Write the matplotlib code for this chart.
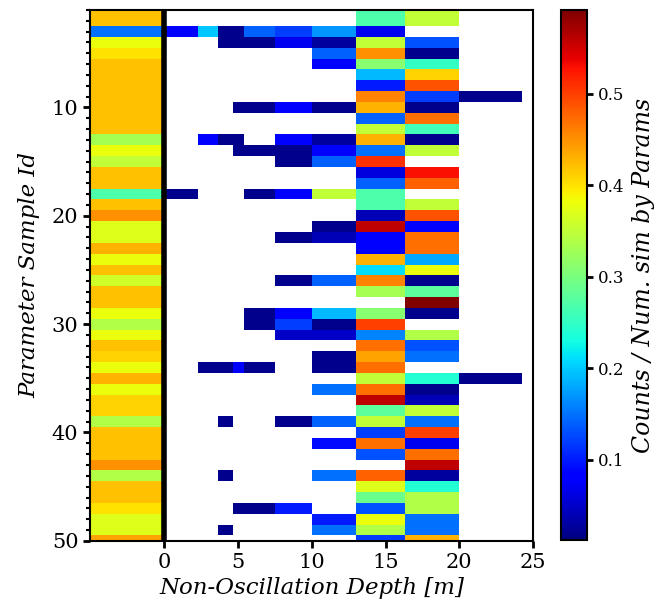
import numpy as np
import matplotlib
matplotlib.use("Agg")
import matplotlib.pyplot as plt
from matplotlib.colors import Normalize

# depth bins (m); the first column (-5..0) holds the oscillating fraction
depth_edges = [-5.0, 0.0, 2.27, 3.63, 4.65, 5.38, 7.49, 10.0, 13.0, 16.3, 20.0, 24.25]
sample_ids = list(range(1, 51))

osc_frac = [0.42, 0.42, 0.15, 0.38, 0.40, 0.42, 0.42, 0.42, 0.42, 0.42,
            0.42, 0.42, 0.33, 0.38, 0.35, 0.42, 0.42, 0.27, 0.42, 0.45,
            0.37, 0.37, 0.43, 0.38, 0.42, 0.36, 0.42, 0.42, 0.38, 0.34,
            0.38, 0.42, 0.41, 0.38, 0.43, 0.38, 0.41, 0.41, 0.34, 0.42,
            0.42, 0.42, 0.45, 0.34, 0.42, 0.42, 0.40, 0.37, 0.37, 0.44]

# sparse shallow bins: sample id -> value
bin_0_2 = {3: 0.08, 18: 0.02}
bin_2_3 = {3: 0.20, 13: 0.08, 34: 0.02}
bin_3_4 = {3: 0.02, 4: 0.02, 13: 0.02, 34: 0.02, 39: 0.02, 44: 0.02, 49: 0.02}
bin_4_5 = {3: 0.02, 4: 0.02, 10: 0.02, 13: 0.02, 14: 0.02, 34: 0.08, 47: 0.02}
bin_5_7 = {3: 0.14, 4: 0.02, 10: 0.02, 14: 0.02, 18: 0.02, 29: 0.02, 30: 0.02,
           34: 0.02, 47: 0.02}
bin_7_10 = {3: 0.12, 4: 0.07, 10: 0.08, 13: 0.08, 14: 0.02, 15: 0.02, 18: 0.08,
            22: 0.02, 26: 0.02, 29: 0.08, 30: 0.12, 31: 0.05, 39: 0.02, 47: 0.10}
bin_10_13 = {3: 0.17, 4: 0.03, 5: 0.14, 6: 0.08, 10: 0.02, 13: 0.03, 14: 0.08,
             15: 0.14, 18: 0.35, 21: 0.02, 22: 0.04, 26: 0.14, 29: 0.19, 30: 0.02,
             31: 0.05, 33: 0.02, 34: 0.02, 36: 0.15, 39: 0.14, 41: 0.09, 44: 0.15,
             48: 0.10, 49: 0.15}
bin_20_24 = {9: 0.02, 35: 0.02}

# dense bins (None = no counts)
bin_13_16 = [0.27, 0.27, 0.07, 0.35, 0.45, 0.31, 0.19, 0.10, 0.46, 0.43,
             0.14, 0.35, 0.43, 0.15, 0.51, 0.06, 0.14, 0.27, 0.27, 0.04,
             0.56, 0.08, 0.08, 0.43, 0.21, 0.46, 0.33, None, 0.31, 0.50,
             0.16, 0.47, 0.44, 0.47, 0.35, 0.47, 0.56, 0.28, 0.35, 0.12,
             0.47, 0.13, None, 0.48, 0.37, 0.29, 0.13, 0.38, 0.34, 0.12]
bin_16_20 = [0.35, 0.35, None, 0.13, 0.02, 0.25, 0.41, 0.49, 0.12, 0.02,
             0.47, 0.26, 0.02, 0.35, None, 0.53, 0.48, None, 0.35, 0.49,
             0.08, 0.47, 0.47, 0.18, 0.38, 0.02, 0.28, 0.59, 0.02, None,
             0.34, 0.13, 0.15, None, 0.24, 0.02, 0.04, 0.35, 0.15, 0.50,
             0.07, 0.47, 0.56, 0.03, 0.24, 0.34, 0.34, 0.15, 0.15, 0.43]


def column(src):
    if isinstance(src, dict):
        return [src.get(i, np.nan) for i in sample_ids]
    return [np.nan if v is None else v for v in src]


cols = [osc_frac, bin_0_2, bin_2_3, bin_3_4, bin_4_5, bin_5_7, bin_7_10,
        bin_10_13, bin_13_16, bin_16_20, bin_20_24]
grid = np.array([column(c) for c in cols]).T
grid = np.ma.masked_invalid(grid)

y_edges = np.arange(0.5, len(sample_ids) + 1, 1.0)

plt.rcParams["font.family"] = "DejaVu Serif"

fig = plt.figure(figsize=(6.59, 6.16), dpi=100)
ax = fig.add_axes([0.137, 0.122, 0.672, 0.862])
cax = fig.add_axes([0.851, 0.123, 0.040, 0.861])

norm = Normalize(vmin=0.012, vmax=0.592)
mesh = ax.pcolormesh(depth_edges, y_edges, grid, cmap="jet", norm=norm)
ax.axvline(0, color="black", lw=4)

ax.set_xlim(-5, 25)
ax.set_ylim(50, 1)
ax.set_xticks([0, 5, 10, 15, 20, 25])
ax.set_yticks([10, 20, 30, 40, 50])
ax.set_yticks(range(1, 51), minor=True)
ax.tick_params(axis="both", which="major", labelsize=15, length=5, width=2)
ax.tick_params(axis="y", which="minor", length=3, width=1.5)
for s in ax.spines.values():
    s.set_linewidth(1.5)

ax.set_xlabel("Non-Oscillation Depth [m]", fontsize=16.5, style="italic", labelpad=4)
ax.set_ylabel("Parameter Sample Id", fontsize=16.5, style="italic", labelpad=8)

cb = fig.colorbar(mesh, cax=cax)
cb.set_ticks([0.1, 0.2, 0.3, 0.4, 0.5])
cb.ax.tick_params(labelsize=12, length=4, width=2)
cb.outline.set_linewidth(1.5)
cb.set_label("Counts / Num. sim by Params", fontsize=17, style="italic", labelpad=6)

fig.savefig("out.png", dpi=100)
